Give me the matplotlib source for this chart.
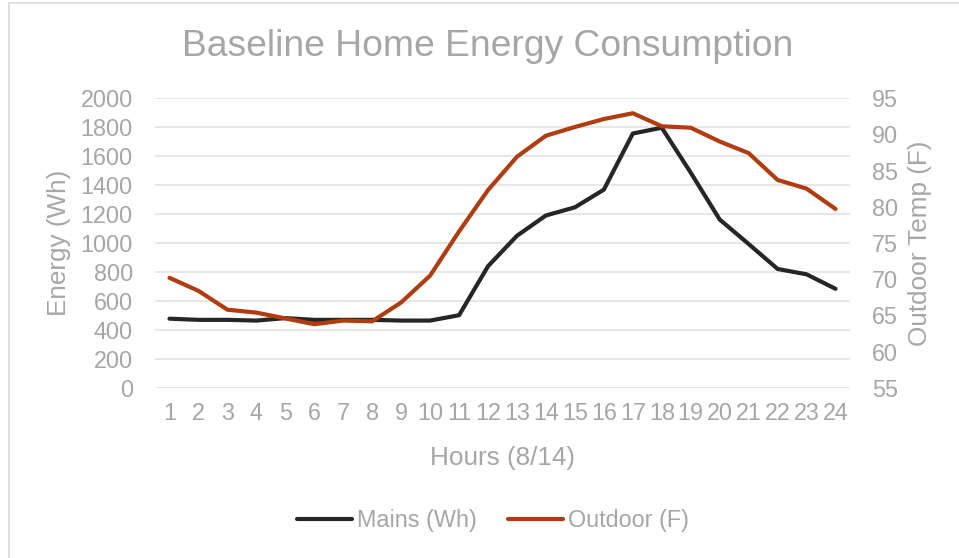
import matplotlib
matplotlib.use("Agg")
import matplotlib.pyplot as plt
from matplotlib.patches import Rectangle
from matplotlib.lines import Line2D

hours = list(range(1, 25))
mains_wh = [478, 470, 470, 465, 482, 470, 470, 470, 465, 465, 502, 840,
            1050, 1190, 1246, 1368, 1755, 1795, 1485, 1162, 993, 821, 784, 684]
outdoor_f = [70.2, 68.4, 65.8, 65.4, 64.6, 63.8, 64.3, 64.2, 66.8, 70.5, 76.6, 82.3,
             86.9, 89.8, 91.0, 92.1, 92.9, 91.1, 90.9, 89.0, 87.4, 83.7, 82.5, 79.7]

grey = "#a6a6a6"
black = "#262626"
orange = "#b13c10"

plt.rcParams["font.family"] = ["Liberation Sans", "DejaVu Sans"]

fig = plt.figure(figsize=(9.59, 5.58), dpi=100)
W, H = 959, 558
ax = fig.add_axes([155 / W, 1 - 388 / H, (850 - 155) / W, (388 - 98) / H])
ax2 = ax.twinx()

# chart frame (cut off on the right and bottom like the original)
fig.patches.append(Rectangle((9 / W, -0.1), 1.1, 1 - 3 / H + 0.1, transform=fig.transFigure,
                             fill=False, edgecolor="#d9d9d9", linewidth=1.2))

ax.plot(hours, mains_wh, color=black, linewidth=3.0, solid_capstyle="round", zorder=3)
ax2.plot(hours, outdoor_f, color=orange, linewidth=3.0, solid_capstyle="round", zorder=3)

ax.set_xlim(0.5, 24.5)
ax.set_ylim(0, 2000)
ax.set_yticks(range(0, 2001, 200))
ax2.set_ylim(55, 95)
ax2.set_yticks(range(55, 96, 5))
ax.set_xticks(hours)

ax.grid(axis="y", color="#e3e3e3", linewidth=1.2)
ax.set_axisbelow(True)
for a in (ax, ax2):
    for s in a.spines.values():
        s.set_visible(False)
    a.tick_params(length=0, labelsize=16.8, colors=grey)
ax.tick_params(axis="x", pad=10)
ax.tick_params(axis="y", pad=16)
ax2.tick_params(axis="y", pad=16)

ax.set_ylabel("Energy (Wh)", fontsize=18.8, color=grey, labelpad=7)
ax2.set_ylabel("Outdoor Temp (F)", fontsize=18.8, color=grey, labelpad=7)
ax.set_xlabel("Hours (8/14)", fontsize=18.8, color=grey, labelpad=15)
fig.text(488 / W, 1 - 47 / H, "Baseline Home Energy Consumption", fontsize=26.8,
         color=grey, ha="center", va="center")

handles = [Line2D([], [], color=black, linewidth=3.0, solid_capstyle="round"),
           Line2D([], [], color=orange, linewidth=3.0, solid_capstyle="round")]
fig.legend(handles, ["Mains (Wh)", "Outdoor (F)"], loc="center",
           bbox_to_anchor=(493 / W, 1 - 521 / H), ncol=2, frameon=False,
           fontsize=16.8, labelcolor=grey, handlelength=2.35, handletextpad=0.2,
           columnspacing=1.36)

fig.savefig("out.png", dpi=100)
